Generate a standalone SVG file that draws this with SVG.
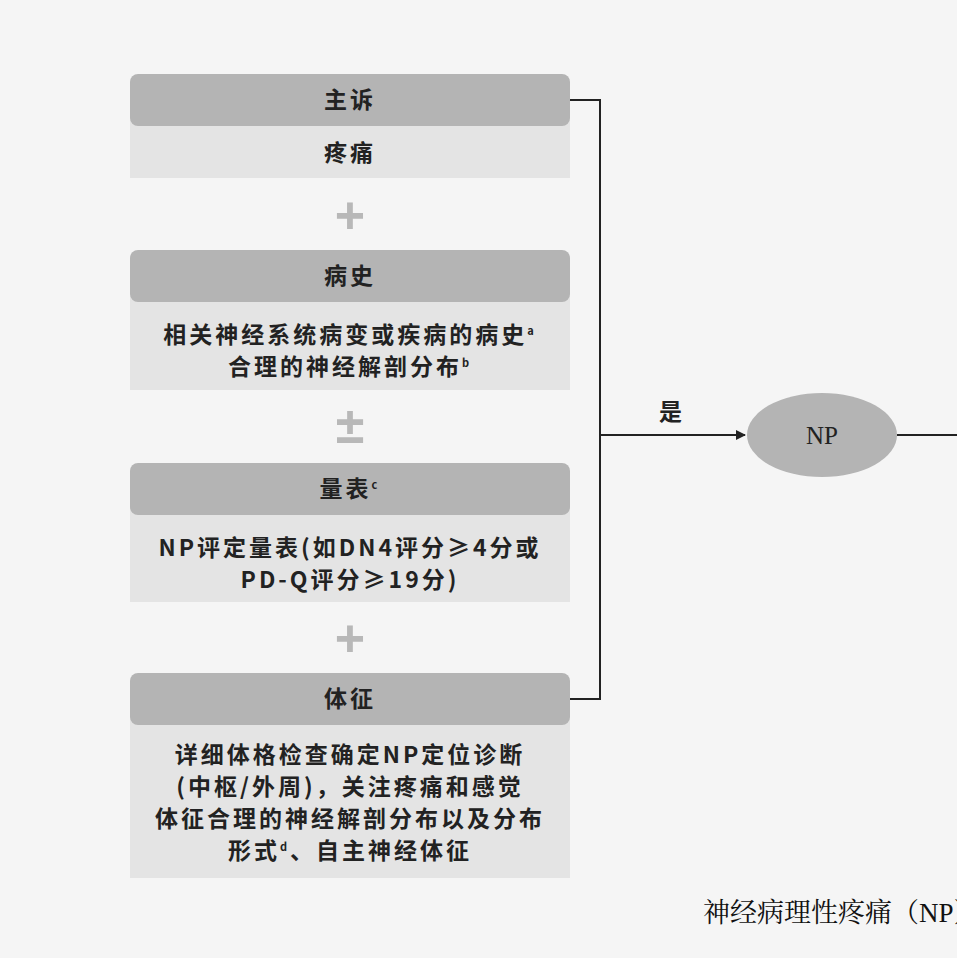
<svg xmlns="http://www.w3.org/2000/svg" width="957" height="958" viewBox="0 0 957 958">
<style>
.h{fill:#b4b4b4}
.b{fill:#e4e4e4}
.t{font-family:"Noto Sans CJK SC","Liberation Sans",sans-serif;font-weight:bold;font-size:23px;letter-spacing:3px;fill:#222;text-anchor:middle}
.s{font-size:11px}
.op{font-family:"Liberation Sans",sans-serif;font-weight:bold;font-size:52px;fill:#b8b8b8;text-anchor:middle}
.ln{stroke:#222;stroke-width:2;fill:none}
</style>
<defs><marker id="a" markerWidth="10" markerHeight="10" refX="9" refY="5" orient="auto" markerUnits="userSpaceOnUse"><path d="M0,0L10,5L0,10z" fill="#222"/></marker></defs>
<rect width="957" height="958" fill="#f5f5f5"/>
<g id="n1"><rect class="b" x="130" y="110" width="440" height="68"/><rect class="h" x="130" y="74" width="440" height="52" rx="8"/>
<text class="t" x="350" y="108">主诉</text><text class="t" x="350" y="161">疼痛</text></g>
<text class="op" x="350" y="233">+</text>
<g id="n2"><rect class="b" x="130" y="290" width="440" height="100"/><rect class="h" x="130" y="250" width="440" height="52" rx="8"/>
<text class="t" x="350" y="284">病史</text>
<text class="t" x="350" y="343">相关神经系统病变或疾病的病史<tspan class="s" dy="-8">a</tspan></text>
<text class="t" x="350" y="375">合理的神经解剖分布<tspan class="s" dy="-8">b</tspan></text></g>
<text class="op" x="350" y="443">±</text>
<g id="n3"><rect class="b" x="130" y="503" width="440" height="99"/><rect class="h" x="130" y="463" width="440" height="52" rx="8"/>
<text class="t" x="350" y="497">量表<tspan class="s" dy="-8">c</tspan></text>
<text class="t" x="350" y="556">NP评定量表(如DN4评分≥4分或</text>
<text class="t" x="350" y="588">PD-Q评分≥19分)</text></g>
<text class="op" x="350" y="656">+</text>
<g id="n4"><rect class="b" x="130" y="713" width="440" height="165"/><rect class="h" x="130" y="673" width="440" height="52" rx="8"/>
<text class="t" x="350" y="707">体征</text>
<text class="t" x="350" y="763">详细体格检查确定NP定位诊断</text>
<text class="t" x="350" y="795">(中枢/外周)，关注疼痛和感觉</text>
<text class="t" x="350" y="827">体征合理的神经解剖分布以及分布</text>
<text class="t" x="350" y="859">形式<tspan class="s" dy="-8">d</tspan><tspan dy="8">、自主神经体征</tspan></text></g>
<g id="np"><ellipse cx="822" cy="435" rx="75" ry="42" fill="#b4b4b4"/>
<text x="822" y="444" font-family="Liberation Serif,serif" font-size="25" fill="#222" text-anchor="middle">NP</text></g>
<g id="connectors">
<path class="ln" d="M570,100H600V699H570"/>
<path class="ln" d="M600,435H745" marker-end="url(#a)"/>
<path class="ln" d="M897,435H957"/>
<text class="t" x="672" y="420">是</text>
</g>
<text x="703" y="922" font-family="Liberation Serif,'Noto Serif CJK SC','Noto Sans CJK SC',serif" font-size="27" fill="#111">神经病理性疼痛（NP）</text>
</svg>
